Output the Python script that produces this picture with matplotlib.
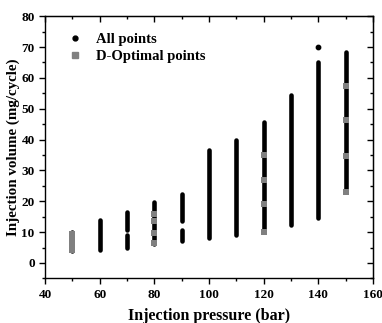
import matplotlib.pyplot as plt
from matplotlib.lines import Line2D
from matplotlib.ticker import MultipleLocator

plt.rcParams['font.family'] = ['Liberation Serif', 'DejaVu Serif']
plt.rcParams['font.weight'] = 'bold'

# All points: each pressure level spans one or more volume ranges (min, max)
pressures = [50, 60, 70, 70, 80, 90, 90, 100, 110, 120, 130, 140, 140, 150]
vol_low = [4.0, 4.2, 5.0, 10.8, 6.0, 7.0, 13.5, 8.1, 9.2, 10.0, 12.4, 14.6, 69.9, 23.0]
vol_high = [10.2, 13.8, 9.2, 16.5, 19.7, 10.6, 22.4, 36.5, 39.8, 45.6, 54.3, 65.0, 69.9, 68.3]

# D-Optimal points
dopt_p = [50, 50, 50, 50, 50, 50, 80, 80, 80, 80, 120, 120, 120, 120, 150, 150, 150, 150]
dopt_v = [4.3, 5.3, 6.3, 7.3, 8.3, 9.3, 6.5, 9.7, 13.5, 16.0, 10.0, 19.1, 27.0, 35.0, 23.0, 34.8, 46.2, 57.4]

fig = plt.figure(figsize=(3.82, 3.23), dpi=100)
ax = fig.add_axes([0.118, 0.138, 0.858, 0.812])

ax.vlines(pressures, vol_low, vol_high, color='black', linewidth=3.3, capstyle='round')
ax.scatter([140], [69.9], s=10, color='black', zorder=3)
ax.scatter(dopt_p, dopt_v, marker='s', s=16, color='#808080', zorder=4, linewidths=0)

ax.set_xlim(40, 160)
ax.set_ylim(-5, 80)
ax.xaxis.set_major_locator(MultipleLocator(20))
ax.xaxis.set_minor_locator(MultipleLocator(10))
ax.yaxis.set_major_locator(MultipleLocator(10))
ax.yaxis.set_minor_locator(MultipleLocator(5))
ax.tick_params(which='both', direction='out', labelsize=9.5, width=1)
ax.tick_params(which='major', length=4)
ax.tick_params(which='minor', length=2.5)
for s in ax.spines.values():
    s.set_linewidth(1)

# mirrored inward ticks on top and right
sec_x = ax.secondary_xaxis('top')
sec_x.xaxis.set_major_locator(MultipleLocator(20))
sec_x.xaxis.set_minor_locator(MultipleLocator(10))
sec_x.tick_params(which='both', direction='in', labeltop=False, width=1)
sec_x.tick_params(which='major', length=4)
sec_x.tick_params(which='minor', length=2.5)
sec_y = ax.secondary_yaxis('right')
sec_y.yaxis.set_major_locator(MultipleLocator(10))
sec_y.yaxis.set_minor_locator(MultipleLocator(5))
sec_y.tick_params(which='both', direction='in', labelright=False, width=1)
sec_y.tick_params(which='major', length=4)
sec_y.tick_params(which='minor', length=2.5)

ax.set_xlabel('Injection pressure (bar)', fontsize=11.5, fontweight='bold', labelpad=5)
ax.set_ylabel('Injection volume (mg/cycle)', fontsize=10.8, fontweight='bold', labelpad=1)

handles = [
    Line2D([], [], marker='o', linestyle='none', color='black', markersize=3.5),
    Line2D([], [], marker='s', linestyle='none', color='#808080', markersize=4.5),
]
ax.legend(handles, ['All points', 'D-Optimal points'], loc='upper left',
          bbox_to_anchor=(0.03, 0.985), frameon=False,
          handlelength=1.0, handletextpad=0.9, labelspacing=0.25,
          prop={'weight': 'bold', 'size': 10.5})

fig.savefig('out.png', dpi=100)
